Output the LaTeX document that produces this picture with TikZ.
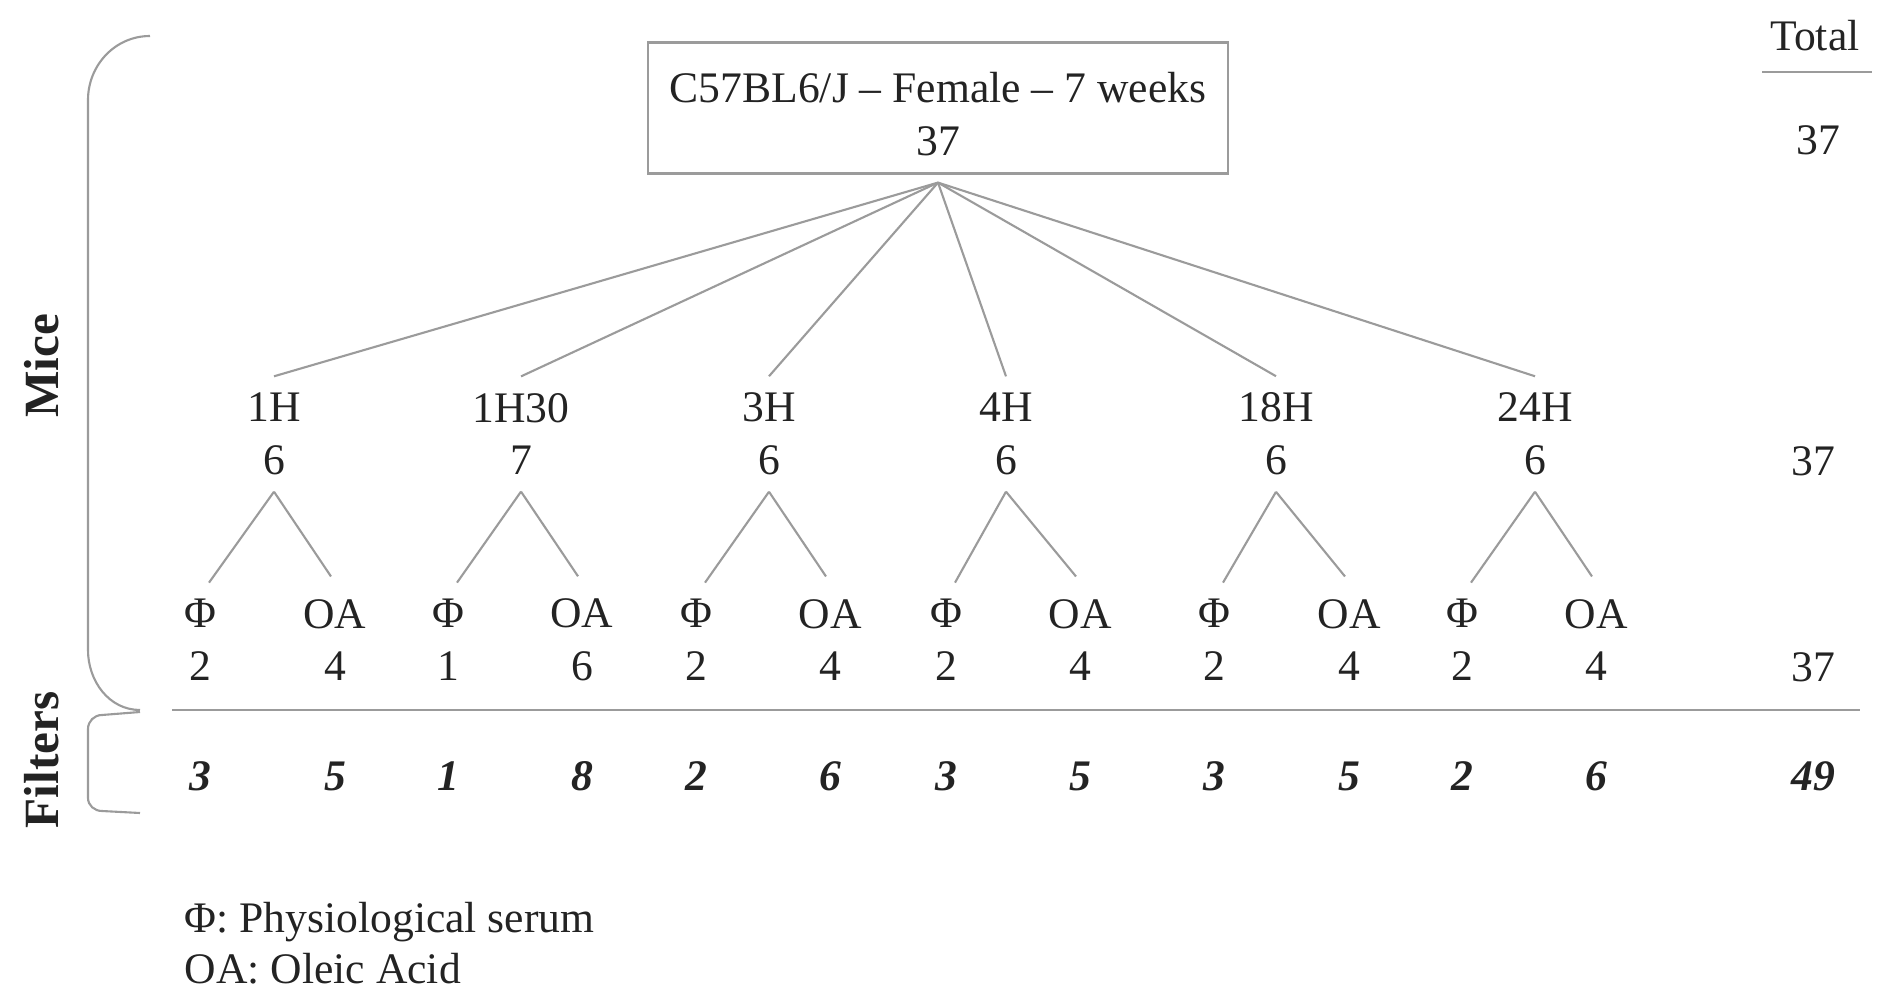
\documentclass[tikz,border=0pt]{standalone}
\usepackage{fontspec}
\setmainfont{Liberation Serif}
\definecolor{linegray}{RGB}{155,155,155}
\definecolor{ink}{RGB}{35,35,35}

\begin{document}
\begin{tikzpicture}[x=0.01cm,y=-0.01cm,
  txt/.style={font=\fontsize{12.4}{15}\selectfont, text=ink, align=center, inner sep=0.16cm},
  conn/.style={draw=linegray, line width=0.6pt},
  filt/.style={font=\fontsize{12.4}{15}\selectfont\bfseries\itshape, text=ink, inner sep=0pt},
  side/.style={font=\fontsize{14}{16}\selectfont\bfseries, text=ink, rotate=90, inner sep=0pt},
  brace/.style={draw=linegray, line width=0.6pt}
]
\useasboundingbox (0,0) rectangle (1881,997);

% root box and its text
\node[draw=linegray, line width=0.6pt, minimum width=5.79cm, minimum height=1.31cm, inner sep=0pt]
  (rootbox) at (938,108) {};
\node[txt] (root) at (938,114) {C57BL6/J – Female – 7 weeks\\37};
\coordinate (apex) at ([yshift=-0.08cm]rootbox.south);

% time points
\node[txt] (m1) at (274,434) {1H\\6};
\node[txt] (m2) at (521,434) {1H30\\7};
\node[txt] (m3) at (769,434) {3H\\6};
\node[txt] (m4) at (1006,434) {4H\\6};
\node[txt] (m5) at (1276,434) {18H\\6};
\node[txt] (m6) at (1535,434) {24H\\6};

\foreach \m in {m1,m2,m3,m4,m5,m6}
  \draw[conn] (apex) -- (\m.north);

% treatments
\node[txt] (l1)  at (200,640)  {Φ\\2};
\node[txt] (l2)  at (335,640)  {OA\\4};
\node[txt] (l3)  at (448,640)  {Φ\\1};
\node[txt] (l4)  at (582,640)  {OA\\6};
\node[txt] (l5)  at (696,640)  {Φ\\2};
\node[txt] (l6)  at (830,640)  {OA\\4};
\node[txt] (l7)  at (946,640)  {Φ\\2};
\node[txt] (l8)  at (1080,640) {OA\\4};
\node[txt] (l9)  at (1214,640) {Φ\\2};
\node[txt] (l10) at (1349,640) {OA\\4};
\node[txt] (l11) at (1462,640) {Φ\\2};
\node[txt] (l12) at (1596,640) {OA\\4};

\foreach \m/\a/\b in {m1/l1/l2, m2/l3/l4, m3/l5/l6, m4/l7/l8, m5/l9/l10, m6/l11/l12}{
  \draw[conn] (\m.south) -- ([xshift=0.09cm]\a.north);
  \draw[conn] (\m.south) -- ([xshift=-0.04cm,yshift=0.06cm]\b.north);
}

% filters per group
\node[filt] (f1)  at (200,776)  {3};
\node[filt] (f2)  at (335,776)  {5};
\node[filt] (f3)  at (448,776)  {1};
\node[filt] (f4)  at (582,776)  {8};
\node[filt] (f5)  at (696,776)  {2};
\node[filt] (f6)  at (830,776)  {6};
\node[filt] (f7)  at (946,776)  {3};
\node[filt] (f8)  at (1080,776) {5};
\node[filt] (f9)  at (1214,776) {3};
\node[filt] (f10) at (1349,776) {5};
\node[filt] (f11) at (1462,776) {2};
\node[filt] (f12) at (1596,776) {6};

% totals column
\node[txt, inner sep=0pt] (total) at (1815,36) {Total};
\draw[conn] (1762,72) -- (1872,72);
\node[txt, inner sep=0pt] (t1) at (1818,140) {37};
\node[txt, inner sep=0pt] (t2) at (1813,461) {37};
\node[txt, inner sep=0pt] (t3) at (1813,667) {37};
\node[filt] (t4) at (1813,776) {49};

% separator between mice and filters
\draw[conn] (172,710) -- (1860,710);

% side brackets and labels
\draw[brace] (150,36) to[out=180,in=90] (88,100) -- (88,650) to[out=-90,in=180] (140,710);
\draw[brace] (140,712) -- (102,715) to[out=180,in=90] (88,729) -- (88,798)
  to[out=-90,in=180] (102,811) -- (140,813);
\node[side] (mice) at (42,366) {Mice};
\node[side] (filters) at (42,760) {Filters};

% legend
\node[txt, inner sep=0pt, anchor=base west] (leg1) at (184,932) {Φ: Physiological serum};
\node[txt, inner sep=0pt, anchor=base west] (leg2) at (184,983) {OA: Oleic Acid};
\end{tikzpicture}
\end{document}
